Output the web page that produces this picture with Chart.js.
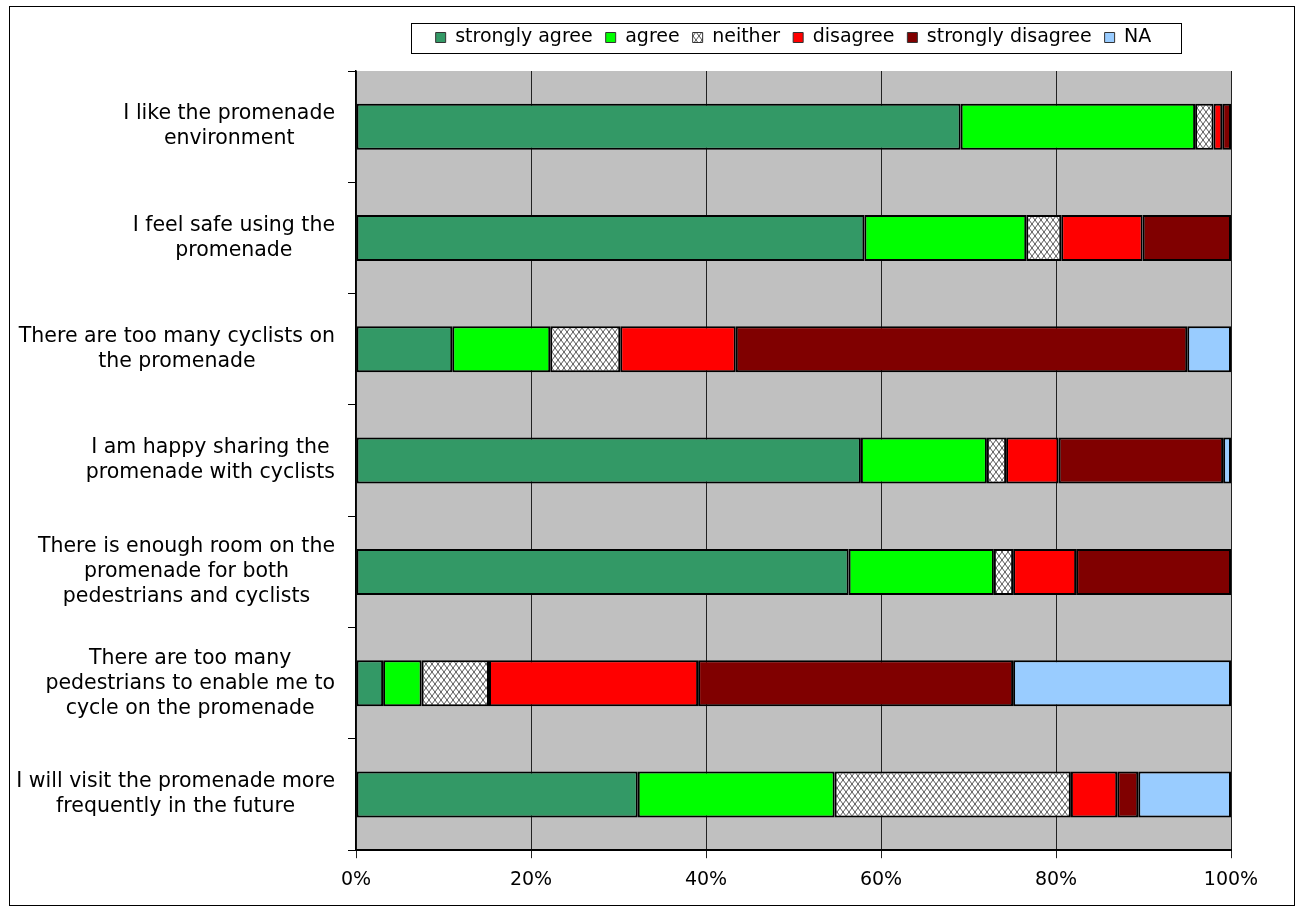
<!DOCTYPE html>
<html>
<head>
<meta charset="utf-8">
<script src="https://cdn.jsdelivr.net/npm/chart.js@4.4.1/dist/chart.umd.min.js"></script>
<style>
  html, body { margin: 0; padding: 0; background: #fff; }
  #wrap { width: 1301px; height: 912px; position: relative; }
</style>
</head>
<body>
<div id="wrap"><canvas id="surveyChart"></canvas></div>
<script>
// statements (one entry per row, already split into the lines shown)
const statements = [
  ["I like the promenade", "environment"],
  ["I feel safe using the", "promenade"],
  ["There are too many cyclists on", "the promenade"],
  ["I am happy sharing the", "promenade with cyclists"],
  ["There is enough room on the", "promenade for both", "pedestrians and cyclists"],
  ["There are too many", "pedestrians to enable me to", "cycle on the promenade"],
  ["I will visit the promenade more", "frequently in the future"]
];

const seriesNames = ['strongly agree', 'agree', 'neither', 'disagree', 'strongly disagree', 'NA'];

// percentages per statement
const stronglyAgree    = [69.1, 58.1, 11.0, 57.7, 56.3,  3.1, 32.2];
const agree            = [26.8, 18.5, 11.2, 14.4, 16.6,  4.4, 22.5];
const neither          = [ 2.1,  4.0,  8.0,  2.2,  2.2,  7.7, 27.0];
const disagree         = [ 1.0,  9.3, 13.2,  6.0,  7.2, 23.9,  5.3];
const stronglyDisagree = [ 1.0, 10.1, 51.6, 18.8, 17.7, 36.0,  2.4];
const notApplicable    = [ 0.0,  0.0,  5.0,  0.9,  0.0, 24.9, 10.6];

const xTickValues = [0, 20, 40, 60, 80, 100];

// white background with a fine diagonal cross-hatch, like the Excel "neither" fill
function crossHatch() {
  const c = document.createElement('canvas');
  c.width = 6; c.height = 8;
  const g = c.getContext('2d');
  g.fillStyle = '#ffffff';
  g.fillRect(0, 0, 6, 8);
  g.strokeStyle = '#555555';
  g.lineWidth = 1;
  g.beginPath();
  g.moveTo(0, 0); g.lineTo(6, 8);
  g.moveTo(6, 0); g.lineTo(0, 8);
  g.stroke();
  return g.createPattern(c, 'repeat');
}

const FONT = '"DejaVu Sans", "Liberation Sans", Arial, sans-serif';

const chartDecor = {
  id: 'chartDecor',
  beforeLayout(chart) {
    // leave a gap between the legend and the plot area
    if (chart.legend && !chart.legend._patched) {
      const fit = chart.legend.fit;
      chart.legend.fit = function () { fit.call(this); this.height += 14; };
      chart.legend._patched = true;
    }
  },
  beforeDraw(chart) {
    const {ctx, chartArea} = chart;
    ctx.save();
    ctx.fillStyle = '#C0C0C0';
    ctx.fillRect(chartArea.left, chartArea.top, chartArea.right - chartArea.left, chartArea.bottom - chartArea.top);
    ctx.restore();
  },
  afterDraw(chart) {
    const {ctx, chartArea} = chart;
    const yScale = chart.scales.y;
    ctx.save();

    // outer frame
    ctx.strokeStyle = '#000';
    ctx.lineWidth = 1;
    ctx.strokeRect(9.5, 6.5, 1285, 899);

    // frame round the legend
    const hb = chart.legend.legendHitBoxes;
    if (hb && hb.length) {
      const first = hb[0], last = hb[hb.length - 1];
      const cy = first.top + first.height / 2;
      const l = Math.round(first.left - 25) + 0.5;
      const r = Math.round(last.left + last.width + 30) + 0.5;
      ctx.strokeRect(l, Math.round(cy - 15) + 0.5, r - l, 30);
    }

    // category labels: each block right aligned, lines centred inside it
    ctx.font = '20.5px ' + FONT;
    ctx.fillStyle = '#000';
    ctx.textBaseline = 'middle';
    ctx.textAlign = 'center';
    const labelRight = chartArea.left - 21;
    chart.data.labels.forEach((lines, i) => {
      const y = yScale.getPixelForTick(i);
      const w = Math.max(...lines.map(t => ctx.measureText(t).width));
      const cx = labelRight - w / 2;
      lines.forEach((t, j) => {
        ctx.fillText(t, cx, y + (j - (lines.length - 1) / 2) * 25);
      });
    });
    ctx.restore();
  }
};

const hatch = crossHatch();
const seriesValues = [stronglyAgree, agree, neither, disagree, stronglyDisagree, notApplicable];
const seriesColors = ['#339966', '#00FF00', hatch, '#FF0000', '#800000', '#99CCFF'];

new Chart(document.getElementById('surveyChart').getContext('2d'), {
  type: 'bar',
  data: {
    labels: statements,
    datasets: seriesNames.map((name, i) => ({
      label: name,
      data: seriesValues[i],
      backgroundColor: seriesColors[i],
      borderColor: '#000000',
      borderWidth: 2,
      borderSkipped: false,
      barPercentage: 0.413,
      categoryPercentage: 1
    }))
  },
  options: {
    indexAxis: 'y',
    responsive: true,
    maintainAspectRatio: false,
    animation: false,
    layout: {
      padding: { left: 348, right: 70, top: 15, bottom: 11 }
    },
    scales: {
      x: {
        stacked: true,
        min: 0,
        max: 100,
        afterBuildTicks: scale => { scale.ticks = xTickValues.map(v => ({ value: v })); },
        ticks: {
          color: '#000',
          font: { family: FONT, size: 19 },
          padding: 10,
          callback: v => v + '%'
        },
        grid: { color: '#222', lineWidth: 1, tickLength: 8, drawTicks: true },
        border: { display: true, color: '#000', width: 2 }
      },
      y: {
        stacked: true,
        ticks: { display: false },
        grid: { drawOnChartArea: false, color: '#000', tickLength: 8 },
        border: { display: true, color: '#000', width: 1.5 }
      }
    },
    plugins: {
      legend: {
        position: 'top',
        fullSize: false,
        labels: {
          color: '#000',
          font: { family: FONT, size: 19 },
          boxWidth: 10,
          boxHeight: 10,
          padding: 13,
          generateLabels(chart) {
            return Chart.defaults.plugins.legend.labels.generateLabels(chart).map(item => {
              item.lineWidth = 1;
              item.strokeStyle = '#333';
              return item;
            });
          }
        }
      },
      tooltip: { enabled: false }
    }
  },
  plugins: [chartDecor]
});
</script>
</body>
</html>
